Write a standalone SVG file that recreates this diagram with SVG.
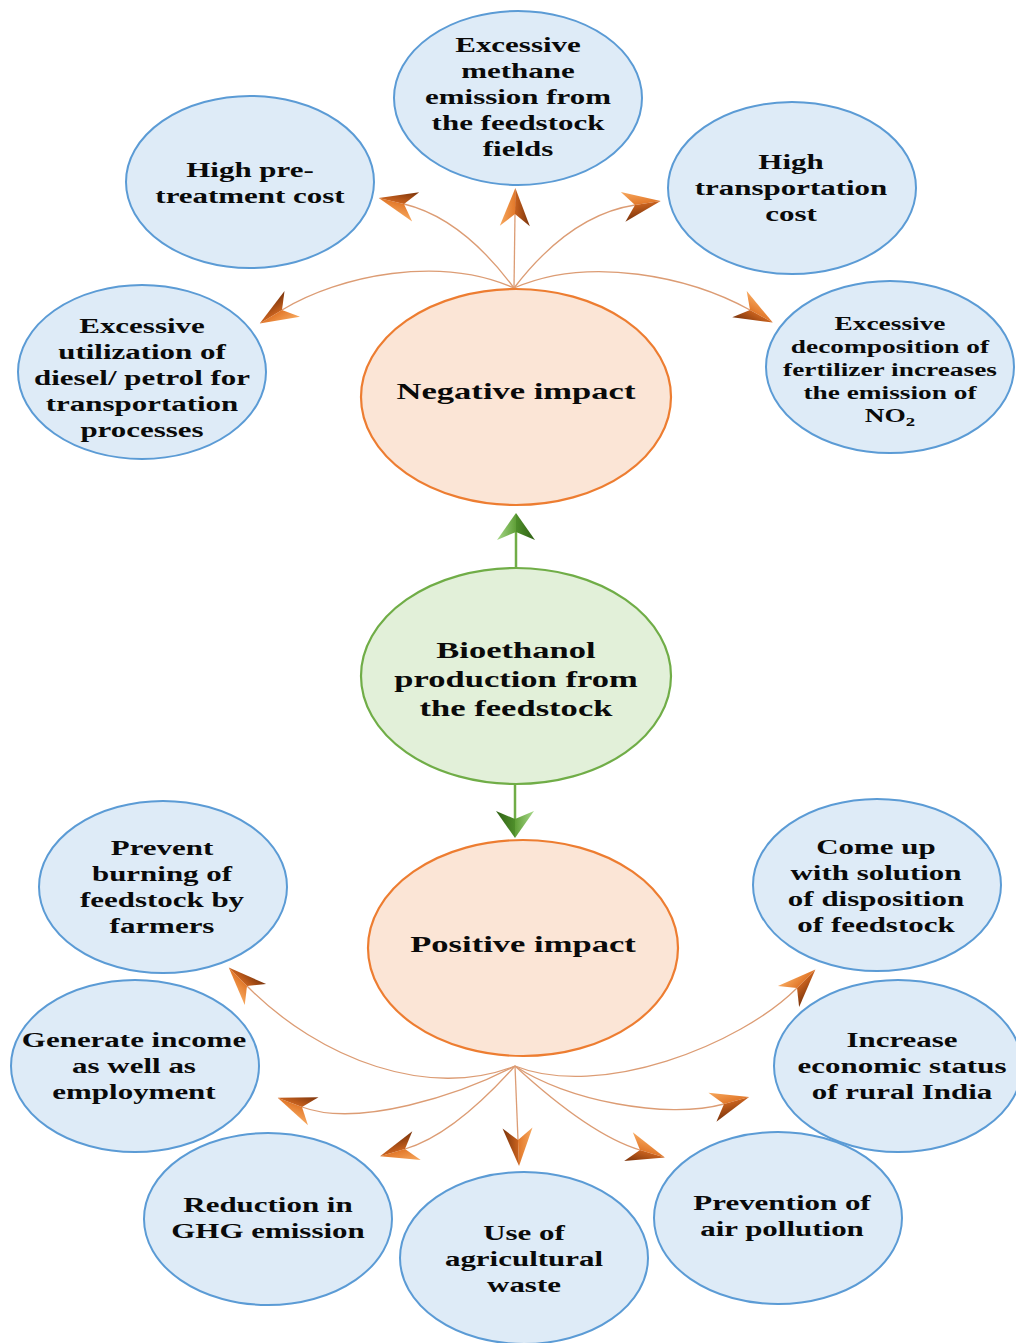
<svg xmlns="http://www.w3.org/2000/svg" width="1016" height="1343" viewBox="0 0 1016 1343">
<style>
.blue{fill:#deebf7;stroke:#5b9bd5;stroke-width:2}
.org{fill:#fbe5d6;stroke:#ed7d31;stroke-width:2.2}
.grn{fill:#e2f0d9;stroke:#70ad47;stroke-width:2.2}
.t{font-family:"Liberation Serif","Times New Roman",serif;font-weight:bold;fill:#0a0a0a;text-anchor:middle;font-size:21.5px}
.tc{font-size:24px}
.ts{font-size:19px}
.con{fill:none;stroke:#dc9c74;stroke-width:1.3}
.gcon{fill:none;stroke:#70ad47;stroke-width:2.5}
</style>
<defs>
<linearGradient id="og1" x1="0" y1="0" x2="0" y2="1">
<stop offset="0" stop-color="#f7a85e"/><stop offset="1" stop-color="#e2782a"/>
</linearGradient>
<linearGradient id="og2" x1="0" y1="0" x2="0" y2="1">
<stop offset="0" stop-color="#c9621e"/><stop offset="1" stop-color="#7a330b"/>
</linearGradient>
<linearGradient id="gg1" x1="0" y1="0" x2="0" y2="1">
<stop offset="0" stop-color="#a8d98a"/><stop offset="1" stop-color="#5e9e36"/>
</linearGradient>
<linearGradient id="gg2" x1="0" y1="0" x2="0" y2="1">
<stop offset="0" stop-color="#4f8f2b"/><stop offset="1" stop-color="#2f6114"/>
</linearGradient>
<marker id="oa" markerUnits="userSpaceOnUse" viewBox="-14 -17 42 34" markerWidth="42" markerHeight="34" refX="0" refY="0" orient="auto">
<path d="M26,0 L-12,-15 L0,0 Z" fill="url(#og1)"/>
<path d="M26,0 L-12,15 L0,0 Z" fill="url(#og2)"/>
</marker>
<marker id="ga" markerUnits="userSpaceOnUse" viewBox="-10 -21 32 42" markerWidth="32" markerHeight="42" refX="0" refY="0" orient="auto">
<path d="M19,0 L-8,-19 L0,0 Z" fill="url(#gg1)"/>
<path d="M19,0 L-8,19 L0,0 Z" fill="url(#gg2)"/>
</marker>
</defs>

<g id="connectors">
<path class="con" d="M514,288 C440,255 340,275 282,310" marker-end="url(#oa)"/>
<path class="con" d="M514,288 Q462,218 404,204" marker-end="url(#oa)"/>
<path class="con" d="M514,288 L515,214" marker-end="url(#oa)"/>
<path class="con" d="M514,288 Q570,215 635,205" marker-end="url(#oa)"/>
<path class="con" d="M514,288 C590,255 690,277 750,310" marker-end="url(#oa)"/>
<path class="gcon" d="M516,568 L516,532" marker-end="url(#ga)"/>
<path class="gcon" d="M515,784 L515,819" marker-end="url(#ga)"/>
<path class="con" d="M515,1066 C430,1100 320,1060 247,986" marker-end="url(#oa)"/>
<path class="con" d="M515,1066 C460,1095 358,1128 302,1107" marker-end="url(#oa)"/>
<path class="con" d="M515,1066 Q453,1135 405,1149" marker-end="url(#oa)"/>
<path class="con" d="M515,1066 L518,1140" marker-end="url(#oa)"/>
<path class="con" d="M515,1066 Q590,1135 640,1150" marker-end="url(#oa)"/>
<path class="con" d="M515,1066 C565,1100 666,1120 724,1104" marker-end="url(#oa)"/>
<path class="con" d="M515,1066 C600,1100 740,1045 797,988" marker-end="url(#oa)"/>
</g>

<g id="n-pretreatment">
<ellipse class="blue" cx="250" cy="182" rx="124" ry="86"/>
<text class="t" transform="translate(250,0) scale(1.44,1)"><tspan x="0" y="177">High pre-</tspan><tspan x="0" y="203">treatment cost</tspan></text>
</g>
<g id="n-methane">
<ellipse class="blue" cx="518" cy="98" rx="124" ry="87"/>
<text class="t" transform="translate(518,0) scale(1.44,1)"><tspan x="0" y="52">Excessive</tspan><tspan x="0" y="78">methane</tspan><tspan x="0" y="104">emission from</tspan><tspan x="0" y="130">the feedstock</tspan><tspan x="0" y="156">fields</tspan></text>
</g>
<g id="n-transport">
<ellipse class="blue" cx="792" cy="188" rx="124" ry="86"/>
<text class="t" transform="translate(791,0) scale(1.44,1)"><tspan x="0" y="169">High</tspan><tspan x="0" y="195">transportation</tspan><tspan x="0" y="221">cost</tspan></text>
</g>
<g id="n-diesel">
<ellipse class="blue" cx="142" cy="372" rx="124" ry="87"/>
<text class="t" transform="translate(142,0) scale(1.44,1)"><tspan x="0" y="333">Excessive</tspan><tspan x="0" y="359">utilization of</tspan><tspan x="0" y="385">diesel/ petrol for</tspan><tspan x="0" y="411">transportation</tspan><tspan x="0" y="437">processes</tspan></text>
</g>
<g id="n-fertilizer">
<ellipse class="blue" cx="890" cy="367" rx="124" ry="86"/>
<text class="t ts" transform="translate(890,0) scale(1.44,1)"><tspan x="0" y="330">Excessive</tspan><tspan x="0" y="353">decomposition of</tspan><tspan x="0" y="376">fertilizer increases</tspan><tspan x="0" y="399">the emission of</tspan><tspan x="0" y="422">NO<tspan font-size="13" dy="4">2</tspan></tspan></text>
</g>
<g id="n-negative">
<ellipse class="org" cx="516" cy="397" rx="155" ry="108"/>
<text class="t tc" transform="translate(516,0) scale(1.44,1)"><tspan x="0" y="399">Negative impact</tspan></text>
</g>
<g id="n-bioethanol">
<ellipse class="grn" cx="516" cy="676" rx="155" ry="108"/>
<text class="t tc" transform="translate(516,0) scale(1.44,1)"><tspan x="0" y="658">Bioethanol</tspan><tspan x="0" y="687">production from</tspan><tspan x="0" y="716">the feedstock</tspan></text>
</g>
<g id="n-positive">
<ellipse class="org" cx="523" cy="948" rx="155" ry="108"/>
<text class="t tc" transform="translate(523,0) scale(1.44,1)"><tspan x="0" y="952">Positive impact</tspan></text>
</g>
<g id="n-burning">
<ellipse class="blue" cx="163" cy="887" rx="124" ry="86"/>
<text class="t" transform="translate(162,0) scale(1.44,1)"><tspan x="0" y="855">Prevent</tspan><tspan x="0" y="881">burning of</tspan><tspan x="0" y="907">feedstock by</tspan><tspan x="0" y="933">farmers</tspan></text>
</g>
<g id="n-solution">
<ellipse class="blue" cx="877" cy="885" rx="124" ry="86"/>
<text class="t" transform="translate(876,0) scale(1.44,1)"><tspan x="0" y="854">Come up</tspan><tspan x="0" y="880">with solution</tspan><tspan x="0" y="906">of disposition</tspan><tspan x="0" y="932">of feedstock</tspan></text>
</g>
<g id="n-income">
<ellipse class="blue" cx="135" cy="1066" rx="124" ry="86"/>
<text class="t" transform="translate(134,0) scale(1.44,1)"><tspan x="0" y="1047">Generate income</tspan><tspan x="0" y="1073">as well as</tspan><tspan x="0" y="1099">employment</tspan></text>
</g>
<g id="n-economic">
<ellipse class="blue" cx="898" cy="1066" rx="124" ry="86"/>
<text class="t" transform="translate(902,0) scale(1.44,1)"><tspan x="0" y="1047">Increase</tspan><tspan x="0" y="1073">economic status</tspan><tspan x="0" y="1099">of rural India</tspan></text>
</g>
<g id="n-ghg">
<ellipse class="blue" cx="268" cy="1219" rx="124" ry="86"/>
<text class="t" transform="translate(268,0) scale(1.44,1)"><tspan x="0" y="1212">Reduction in</tspan><tspan x="0" y="1238">GHG emission</tspan></text>
</g>
<g id="n-agri">
<ellipse class="blue" cx="524" cy="1258" rx="124" ry="86"/>
<text class="t" transform="translate(524,0) scale(1.44,1)"><tspan x="0" y="1240">Use of</tspan><tspan x="0" y="1266">agricultural</tspan><tspan x="0" y="1292">waste</tspan></text>
</g>
<g id="n-air">
<ellipse class="blue" cx="778" cy="1218" rx="124" ry="86"/>
<text class="t" transform="translate(782,0) scale(1.44,1)"><tspan x="0" y="1210">Prevention of</tspan><tspan x="0" y="1236">air pollution</tspan></text>
</g>
</svg>
